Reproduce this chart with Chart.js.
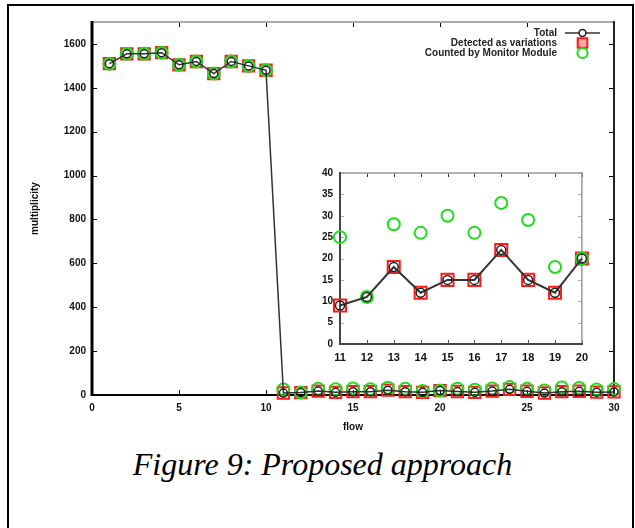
<!DOCTYPE html>
<html><head><meta charset="utf-8">
<script src="https://cdn.jsdelivr.net/npm/chart.js@4.4.0/dist/chart.umd.min.js"></script>
<style>
html,body{margin:0;padding:0;background:#fff;width:635px;height:528px;overflow:hidden}
#frame{position:absolute;left:7px;top:4px;width:627px;height:600px;border:2px solid #000;border-bottom:none;box-sizing:border-box}
#main{position:absolute;left:0;top:0}
#inset{position:absolute;left:300px;top:160px}
#caption{position:absolute;left:0;width:645px;top:448px;text-align:center;font-family:"Liberation Serif","Times New Roman",serif;font-style:italic;font-size:32px;line-height:32px;color:#000}
</style>
</head><body>
<div id="frame"></div>
<canvas id="main" width="635" height="440"></canvas>
<canvas id="inset" width="295" height="210"></canvas>
<div id="caption">Figure 9: Proposed approach</div>
<script>
// ---- data ----
const flows    = [1,2,3,4,5,6,7,8,9,10,11,12,13,14,15,16,17,18,19,20,21,22,23,24,25,26,27,28,29,30];
const total    = [1510,1555,1555,1560,1505,1520,1465,1520,1500,1480,9,11,18,12,15,15,22,15,12,20,16,12,18,26,17,9,15,17,13,14];
const detected = [1510,1555,1555,1560,1505,1520,1465,1520,1500,1480,9,11,18,12,15,15,22,15,12,20,16,12,18,26,17,9,15,17,13,14];
const counted  = [1510,1555,1555,1560,1505,1520,1465,1520,1500,1480,25,11,28,26,30,26,33,29,18,20,29,24,30,36,28,21,34,32,25,27];
const mainXTicks = [0,5,10,15,20,25,30];
const mainYTicks = [0,200,400,600,800,1000,1200,1400,1600];

const insetFlows    = [11,12,13,14,15,16,17,18,19,20];
const insetTotal    = [9,11,18,12,15,15,22,15,12,20];
const insetDetected = [9,null,18,12,15,15,22,15,12,20];
const insetCounted  = [25,11,28,26,30,26,33,29,18,20];
const insetXTicks = [11,12,13,14,15,16,17,18,19,20];
const insetYTicks = [0,5,10,15,20,25,30,35,40];

const seriesNames = ['Total','Detected as variations','Counted by Monitor Module'];

// ---- helpers ----
const FONT = '"Liberation Sans", Arial, sans-serif';
const pts = (xs, ys) => xs.map((x,i)=>({x, y: ys[i]}));

const frameTicks = {
  id:'frameTicks',
  beforeDatasetsDraw(chart, args, o){
    const {ctx, chartArea:{left,right,top,bottom}, scales:{x,y}} = chart;
    ctx.save();
    const L = o.len;
    const seg=(a,b,c,d,col,w)=>{ctx.beginPath();ctx.strokeStyle=col;ctx.lineWidth=w;ctx.moveTo(a,b);ctx.lineTo(c,d);ctx.stroke();};
    x.ticks.forEach(t=>{
      const px = Math.round(x.getPixelForValue(t.value))+0.5;
      seg(px,bottom,px,bottom-L,o.bottomTick,1);
      seg(px,top,px,top+L,o.topTick,1);
    });
    y.ticks.forEach(t=>{
      const py = Math.round(y.getPixelForValue(t.value))+0.5;
      seg(left,py,left+L,py,o.leftTick,1);
      seg(right,py,right-L,py,o.rightTick,1);
    });
    seg(left-1,top,right+1,top,o.top[0],o.top[1]);
    seg(right,top-1,right,bottom+1,o.right[0],o.right[1]);
    seg(left,top-1,left,bottom+1,o.left[0],o.left[1]);
    seg(left-1,bottom,right+1,bottom,o.bottom[0],o.bottom[1]);
    ctx.restore();
  }
};

const keyLegend = {
  id:'keyLegend',
  afterDraw(chart, args, o){
    if(!o.show) return;
    const {ctx} = chart;
    ctx.save();
    ctx.font = 'bold 10px ' + FONT;
    ctx.textAlign = 'right';
    ctx.textBaseline = 'middle';
    chart.data.datasets.forEach((ds,i)=>{
      const yy = o.y0 + i*o.dy;
      ctx.fillStyle = '#222';
      ctx.fillText(ds.label, o.textRight, yy);
      if(ds.showLine !== false){
        ctx.beginPath(); ctx.strokeStyle = ds.borderColor; ctx.lineWidth = ds.borderWidth;
        ctx.moveTo(o.sx0, yy); ctx.lineTo(o.sx1, yy); ctx.stroke();
      }
      ctx.strokeStyle = ds.pointBorderColor; ctx.lineWidth = ds.pointBorderWidth;
      ctx.fillStyle = o.fills[i];
      Chart.helpers.drawPoint(ctx, {pointStyle: ds.pointStyle, radius: ds.pointRadius*o.scale, borderWidth: ds.pointBorderWidth, rotation:0}, (o.sx0+o.sx1)/2, yy);
    });
    ctx.restore();
  }
};

function makeDatasets(xs, tot, det, cnt, s){
  return [
    {label:seriesNames[0], data:pts(xs,tot), borderColor:'#333', borderWidth:s.lw,
     pointStyle:'circle', pointRadius:s.rc, pointBorderColor:'#222', pointBorderWidth:1.5,
     pointBackgroundColor:'rgba(0,0,0,0)', order:0, clip:false},
    {label:seriesNames[1], data:pts(xs,det), showLine:false, borderColor:'#ff1a1a',
     pointStyle:'rect', pointRadius:s.rs, pointBorderColor:'#ff1a1a', pointBorderWidth:2,
     pointBackgroundColor:'rgba(0,0,0,0)', order:2, clip:false},
    {label:seriesNames[2], data:pts(xs,cnt), showLine:false, borderColor:'#1fdc1f',
     pointStyle:'circle', pointRadius:s.rg, pointBorderColor:'#1fdc1f', pointBorderWidth:2,
     pointBackgroundColor:'rgba(0,0,0,0)', order:1, clip:false}
  ];
}

function axis(min,max,tickVals,fontSize,pad,fit,title){
  const a = {
    type:'linear', min, max,
    afterBuildTicks: s => { s.ticks = tickVals.map(v=>({value:v})); },
    grid:{display:false, drawTicks:false}, border:{display:false},
    ticks:{padding:pad, autoSkip:false, maxRotation:0, color:'#111',
      font:{family:FONT, size:fontSize, weight:'bold'}, callback: v => String(v)},
    afterFit: fit
  };
  if(title) a.title = title;
  return a;
}

Chart.defaults.animation = false;

new Chart(document.getElementById('main'), {
  type:'line',
  data:{datasets: makeDatasets(flows,total,detected,counted,{lw:1.5,rc:4,rs:8,rg:6})},
  options:{
    responsive:false, devicePixelRatio:1, animation:false,
    layout:{padding:{left:0,top:22,right:21,bottom:0}},
    scales:{
      x: axis(0,30,mainXTicks,10,7,s=>{s.height=45;},
        {display:true,text:'flow',color:'#111',font:{family:FONT,size:10,weight:'bold'},padding:{top:0,bottom:7}}),
      y: axis(0,1700,mainYTicks,10,6,s=>{s.width=92;},
        {display:true,text:'multiplicity',color:'#111',font:{family:FONT,size:10,weight:'bold'},padding:{top:29,bottom:0}})
    },
    plugins:{
      legend:{display:false}, tooltip:{enabled:false},
      frameTicks:{len:5, bottomTick:'#000', topTick:'#000', leftTick:'#000', rightTick:'#000',
        top:['#aaa',2], right:['#222',2], left:['#000',3], bottom:['#000',2]},
      keyLegend:{show:true, textRight:557, y0:33, dy:10, sx0:565, sx1:600, scale:0.85,
        fills:['rgba(255,255,255,1)','rgba(255,170,170,1)','rgba(255,255,255,1)']}
    }
  },
  plugins:[frameTicks,keyLegend]
});

new Chart(document.getElementById('inset'), {
  type:'line',
  data:{datasets: makeDatasets(insetFlows,insetTotal,insetDetected,insetCounted,{lw:2,rc:4.5,rs:8.5,rg:6})},
  options:{
    responsive:false, devicePixelRatio:1, animation:false,
    layout:{padding:{left:0,top:9,right:11,bottom:0}},
    scales:{
      x: axis(11,20,insetXTicks,11,7,s=>{s.height=26;}),
      y: axis(0,40,insetYTicks,10,7,s=>{s.width=40;})
    },
    plugins:{
      legend:{display:false}, tooltip:{enabled:false},
      frameTicks:{len:4, bottomTick:'#555', topTick:'#333', leftTick:'#aaa', rightTick:'#aaa',
        top:['#999',1.5], right:['#999',1.5], left:['#444',2], bottom:['#444',2]},
      keyLegend:{show:false}
    }
  },
  plugins:[frameTicks,keyLegend]
});
</script>
</body></html>
